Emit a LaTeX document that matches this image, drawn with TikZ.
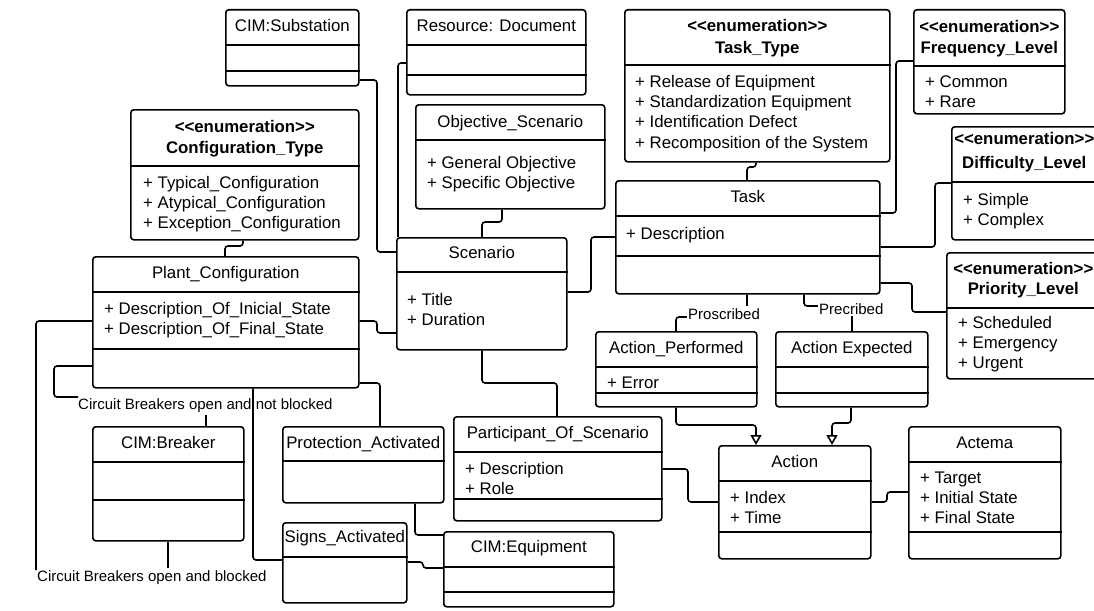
\documentclass[tikz,border=0pt]{standalone}
\usepackage{fontspec}
\setmainfont{Liberation Sans}
\usetikzlibrary{arrows.meta}
\newcommand\fs{\fontsize{16.8}{20}\selectfont}
\newcommand\fl{\fontsize{15}{18}\selectfont}
\newcommand\enumtag{\textbf{<\kern0pt<enumeration>\kern0pt>}}
\tikzset{
  ubox/.style={draw, line width=1.6pt, rounded corners=3pt, inner sep=0pt},
  usep/.style={line width=1.6pt},
  conn/.style={line width=1.6pt, rounded corners=3pt},
  txt/.style={inner sep=0pt, font=\fs},
  lbl/.style={inner sep=0pt, font=\fl},
  flbl/.style={inner xsep=1pt, inner ysep=2pt, font=\fl, fill=white},
  gen/.style={-{Triangle[open,width=11pt,length=10pt]}}
}
% name, x1, y1, x2, y2
\newcommand\ubox[5]{\node[ubox, minimum width={#4-#2}, minimum height={#5-#3}, anchor=north west] (#1) at (#2,#3) {};}
\newcommand\usepl[2]{\draw[usep] (#1.west |- 0,#2) -- (#1.east |- 0,#2);}
\newcommand\utitle[3]{\node[txt, anchor=base] (#1-t) at (#1.center |- 0,#2) {#3};}
\newcommand\etitle[4]{\node[txt, anchor=base] (#1-e) at (#1.center |- 0,#2) {\enumtag};
  \node[txt, anchor=base] (#1-t) at (#1.center |- 0,#3) {\textbf{#4}};}
\newcommand\attrs[4]{\foreach \s [count=\i] in {#4} {\node[txt, anchor=base west] (#1-a\i) at (#2, {#3+20.4*(\i-1)}) {\s};}}
\begin{document}
\begin{tikzpicture}[x=1pt,y=-1pt]
\useasboundingbox (0,0) rectangle (1094,610);
\clip (0,0) rectangle (1094,610);

% ---- boxes ----
\ubox{sub}{225}{9}{358}{85}
\usepl{sub}{45}\usepl{sub}{71}
\utitle{sub}{32}{CIM:Substation}

\ubox{res}{406}{9}{585}{94}
\usepl{res}{45}\usepl{res}{75}
\utitle{res}{32}{Resource: Document}

\ubox{ttype}{624}{9}{889}{161}
\usepl{ttype}{65}
\etitle{ttype}{32}{53}{Task\_Type}
\attrs{ttype}{635}{87}{+ Release of Equipment,+ Standardization Equipment,+ Identification Defect,+ Recomposition of the System}

\ubox{freq}{913}{9}{1064}{113}
\usepl{freq}{66}
\etitle{freq}{33}{53}{Frequency\_Level}
\attrs{freq}{925}{87}{+ Common,+ Rare}

\ubox{cfg}{130}{109}{358}{239}
\usepl{cfg}{166}
\etitle{cfg}{132}{153}{Configuration\_Type}
\attrs{cfg}{143}{188}{+ Typical\_Configuration,+ Atypical\_Configuration,+ Exception\_Configuration}

\ubox{obj}{415}{104}{604}{208}
\usepl{obj}{140}
\utitle{obj}{127}{Objective\_Scenario}
\attrs{obj}{427}{168}{+ General Objective,+ Specific Objective}

\ubox{diff}{951}{126}{1096}{239}
\usepl{diff}{182}
\etitle{diff}{144}{168}{Difficulty\_Level}
\attrs{diff}{963}{205}{+ Simple,+ Complex}

\ubox{task}{615}{180}{879}{293}
\usepl{task}{216}\usepl{task}{256}
\utitle{task}{202}{Task}
\attrs{task}{626}{239}{+ Description}

\ubox{scen}{396}{237}{566}{349}
\usepl{scen}{272}
\utitle{scen}{258}{Scenario}
\attrs{scen}{407}{305}{+ Title,+ Duration}

\ubox{plant}{92}{256}{358}{387}
\usepl{plant}{292}\usepl{plant}{349}
\utitle{plant}{278}{Plant\_Configuration}
\attrs{plant}{104}{314}{+ Description\_Of\_Inicial\_State,+ Description\_Of\_Final\_State}

\ubox{prio}{946}{252}{1099}{378}
\usepl{prio}{308}
\etitle{prio}{274}{294}{Priority\_Level}
\attrs{prio}{958}{328}{+ Scheduled,+ Emergency,+ Urgent}

\ubox{actp}{595}{331}{756}{406}
\usepl{actp}{367}\usepl{actp}{393}
\utitle{actp}{353}{Action\_Performed}
\attrs{actp}{607}{388}{+ Error}

\ubox{acte}{775}{331}{927}{406}
\usepl{acte}{367}\usepl{acte}{393}
\utitle{acte}{353}{Action Expected}

\ubox{brk}{92}{426}{243}{540}
\usepl{brk}{462}\usepl{brk}{500}
\utitle{brk}{448}{CIM:Breaker}

\ubox{prot}{282}{426}{443}{502}
\usepl{prot}{461}
\utitle{prot}{448}{Protection\_Activated}

\ubox{part}{453}{416}{661}{520}
\usepl{part}{452}\usepl{part}{499}
\utitle{part}{438}{Participant\_Of\_Scenario}
\attrs{part}{465}{474}{+ Description,+ Role}

\ubox{action}{718}{445}{870}{558}
\usepl{action}{481}\usepl{action}{532}
\utitle{action}{467}{Action}
\attrs{action}{730}{503}{+ Index,+ Time}

\ubox{actema}{908}{426}{1060}{558}
\usepl{actema}{462}\usepl{actema}{532}
\utitle{actema}{448}{Actema}
\attrs{actema}{920}{483}{+ Target,+ Initial State,+ Final State}

\ubox{signs}{282}{522}{406}{602}
\usepl{signs}{557}
\utitle{signs}{542}{Signs\_Activated}

\ubox{equip}{443}{531}{613}{606}
\usepl{equip}{567}\usepl{equip}{592}
\utitle{equip}{552}{CIM:Equipment}

% ---- labels on associations ----
\node[lbl, anchor=base west] (lnb) at (78,409) {Circuit Breakers open and not blocked};
\node[lbl, anchor=base west] (lb) at (37,581) {Circuit Breakers open and blocked};

% ---- connectors ----
\draw[conn] (sub.east |- 0,80) -- (377,80) -- (377,252) -- (scen.west |- 0,252);
\draw[conn] (res.west |- 0,63) -- (398,63) -- (398,237);
\draw[conn] (obj.south -| 502,0) -- (502,222) -- (482,222) -- (482,0 |- scen.north);
\draw[conn] (243,0 |- cfg.south) -- (243,246) -- (225,246) -- (225,0 |- plant.north);
\draw[conn] (plant.east |- 0,321) -- (377,321) -- (377,333) -- (scen.west |- 0,333);
\draw[conn] (scen.east |- 0,292) -- (591,292) -- (591,237) -- (task.west |- 0,237);
\draw[conn] (756,0 |- ttype.south) -- (756,167) -- (747,167) -- (747,0 |- task.north);
\draw[conn] (task.east |- 0,213) -- (896,213) -- (896,61) -- (freq.west |- 0,61);
\draw[conn] (task.east |- 0,247) -- (935,247) -- (935,183) -- (diff.west |- 0,183);
\draw[conn] (task.east |- 0,283) -- (912,283) -- (912,312) -- (prio.west |- 0,312);
\draw[conn] (747,0 |- task.south) -- (747,317) -- (676,317) -- (676,0 |- actp.north);
\node[flbl, anchor=base west] (lpro) at (687,319) {Proscribed};
\draw[conn] (804,0 |- task.south) -- (804,306) -- (852,306) -- (852,0 |- acte.north);
\node[flbl, anchor=base west] (lpre) at (818,314) {Precribed};
\draw[conn, gen] (676,0 |- actp.south) -- (676,425) -- (756,425) -- (756,0 |- action.north);
\draw[conn, gen] (851,0 |- acte.south) -- (851,423) -- (832,423) -- (832,0 |- action.north);
\draw[conn] (482,0 |- scen.south) -- (482,383) -- (557,383) -- (557,0 |- part.north);
\draw[conn] (part.east |- 0,469) -- (688,469) -- (688,502) -- (action.west |- 0,502);
\draw[conn] (action.east |- 0,502) -- (887,502) -- (887,492) -- (actema.west |- 0,492);
\draw[conn] (plant.west |- 0,366) -- (54,366) -- (54,397) -- (lnb.west |- 0,397);
\draw[conn] (206,0 |- lnb.south) ++(0,3) -- (206,0 |- brk.north);
\draw[conn] (plant.west |- 0,321) -- (36,321) -- (36,570);
\draw[conn] (168,0 |- brk.south) -- (168,568);
\draw[conn] (253,0 |- plant.south) -- (253,560) -- (signs.west |- 0,560);
\draw[conn] (plant.east |- 0,383) -- (380,383) -- (380,0 |- prot.north);
\draw[conn] (415,0 |- prot.south) -- (415,535) -- (equip.west |- 0,535);
\draw[conn] (signs.east |- 0,562) -- (423,562) -- (423,568) -- (equip.west |- 0,568);
\end{tikzpicture}
\end{document}
